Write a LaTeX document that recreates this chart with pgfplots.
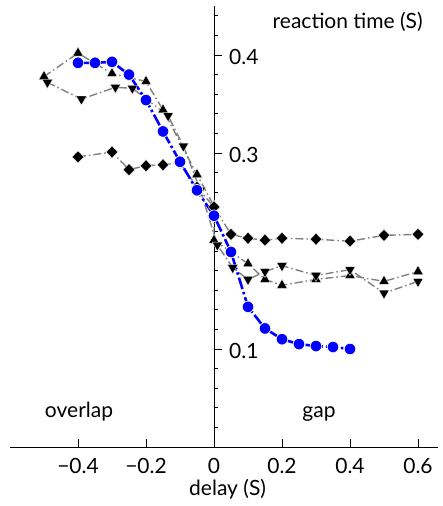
\documentclass[border=0pt]{standalone}
\usepackage{fontspec}
\setmainfont{Lato}
\usepackage{pgfplots}
\pgfplotsset{compat=1.18}
\definecolor{rtblue}{RGB}{0,0,255}
\definecolor{rtgray}{RGB}{128,128,128}

\begin{document}
\fontsize{21}{24}\selectfont
\begin{tikzpicture}
\begin{axis}[
    scale only axis,
    width=428.4pt, height=441pt,
    xmin=-0.6, xmax=0.66, ymin=0, ymax=0.45,
    axis lines=middle,
    axis line style={-, line width=0.8pt},
    tick align=inside,
    major tick length=8pt, minor tick length=4.5pt,
    tick style={black, line width=0.8pt},
    hide obscured x ticks=false, hide obscured y ticks=false,
    xtick={-0.4,-0.2,0,0.2,0.4,0.6},
    xticklabels={−0.4,−0.2,0,0.2,0.4,0.6},
    ytick={0.1,0.3,0.4},
    yticklabels={0.1,0.3,0.4},
    minor ytick={0.02,0.04,0.06,0.08,0.12,0.14,0.16,0.18,0.2,0.22,0.24,0.26,0.28,0.32,0.34,0.36,0.38,0.42,0.44},
    xticklabel style={anchor=base, yshift=-26pt},
    yticklabel style={anchor=west, xshift=8pt, yshift=-1.5pt},
    clip=false,
    grayline/.style={rtgray, line width=1.4pt, dash pattern=on 8pt off 3pt on 1.5pt off 3pt},
]
% triangles up
\addplot[grayline, mark=triangle*, mark size=6pt, mark options={solid, fill=black, draw=white, line width=0.3pt}] coordinates {
    (-0.5,0.378) (-0.4,0.402) (-0.3,0.381) (-0.2,0.373) (-0.15,0.344) (-0.05,0.278) (0,0.246)
    (0,0.211) (0.1,0.187) (0.15,0.171) (0.2,0.165) (0.3,0.171) (0.4,0.175) (0.5,0.169) (0.6,0.179)};
% triangles down
\addplot[grayline, mark=triangle*, mark size=6pt, mark options={solid, rotate=180, fill=black, draw=white, line width=0.3pt}] coordinates {
    (-0.49,0.372) (-0.39,0.355) (-0.29,0.367) (-0.24,0.366) (-0.135,0.338) (-0.09,0.307) (-0.04,0.262)
    (0.01,0.206) (0.055,0.183) (0.1,0.171) (0.15,0.179) (0.2,0.185) (0.3,0.175) (0.4,0.181) (0.5,0.157) (0.6,0.169)};
% diamonds
\addplot[grayline, mark=diamond*, mark size=6pt, mark options={solid, xscale=1.3, fill=black, draw=white, line width=0.3pt}] coordinates {
    (-0.4,0.296) (-0.3,0.301) (-0.25,0.283) (-0.2,0.287) (-0.15,0.288) (-0.1,0.290) (-0.05,0.265) (0,0.245)
    (0.05,0.217) (0.1,0.213) (0.15,0.211) (0.2,0.213) (0.3,0.212) (0.4,0.210) (0.5,0.216) (0.6,0.217)};
% model
\addplot[rtblue, line width=2.6pt, dash pattern=on 12pt off 3pt on 2.5pt off 3pt, mark=*, mark size=5.8pt,
    mark options={solid, fill=rtblue, draw=white, line width=0.7pt}] coordinates {
    (-0.4,0.392) (-0.35,0.392) (-0.3,0.393) (-0.25,0.380) (-0.2,0.354) (-0.15,0.322) (-0.1,0.291) (-0.05,0.262)
    (0,0.236) (0.05,0.199) (0.1,0.143) (0.15,0.121) (0.2,0.110) (0.25,0.105) (0.3,0.103) (0.35,0.102) (0.4,0.100)};

\node[anchor=east] at (axis cs:0.635,0.434) {reaction time (S)};
\node[anchor=base] at (axis cs:-0.397,0.0296) {overlap};
\node[anchor=base] at (axis cs:0.309,0.0296) {gap};
\node[anchor=base] at (axis cs:0.04,0) [yshift=-48pt] {delay (S)};
\end{axis}
\path (-10pt,-59pt) rectangle (433pt,447pt);
\end{tikzpicture}
\end{document}
